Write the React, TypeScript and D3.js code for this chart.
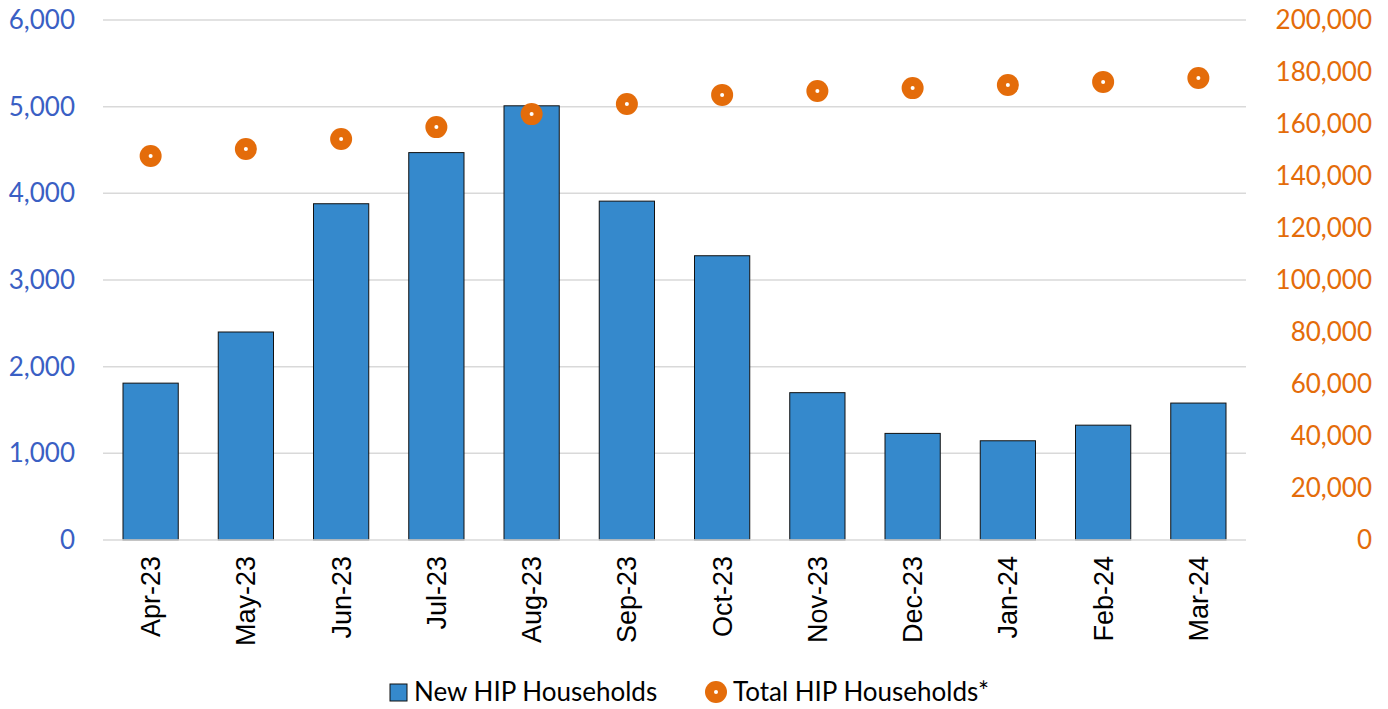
import React, { useEffect, useRef } from 'react';
import * as d3 from 'd3';

const months = ['Apr-23', 'May-23', 'Jun-23', 'Jul-23', 'Aug-23', 'Sep-23', 'Oct-23', 'Nov-23', 'Dec-23', 'Jan-24', 'Feb-24', 'Mar-24'];
const newHouseholds = [1810, 2400, 3880, 4470, 5010, 3910, 3280, 1700, 1230, 1145, 1325, 1580];
const totalHouseholds = [147700, 150400, 154200, 158800, 163800, 167700, 171200, 172700, 173800, 175000, 176200, 177700];
const leftTicks = [0, 1000, 2000, 3000, 4000, 5000, 6000];
const rightTicks = [0, 20000, 40000, 60000, 80000, 100000, 120000, 140000, 160000, 180000, 200000];

const BLUE_TEXT = '#3a5fc4';
const ORANGE = '#e46c0a';
const BAR = '#3589cc';

const App = () => {
  const svgRef = useRef(null);

  useEffect(() => {
    const svg = d3.select(svgRef.current);
    svg.selectAll('*').remove();
    const width = 1388;
    const height = 709;
    const margin = { top: 20, right: 142, bottom: 169, left: 103 };
    const innerWidth = width - margin.left - margin.right;
    const innerHeight = height - margin.top - margin.bottom;
    const labelFont = 'Lato, "Open Sans", sans-serif';

    const x = d3.scaleBand().domain(months).range([0, innerWidth]).paddingInner(0.42).paddingOuter(0.21);
    const y = d3.scaleLinear().domain([0, 6000]).range([innerHeight, 0]);
    const y2 = d3.scaleLinear().domain([0, 200000]).range([innerHeight, 0]);
    const fmt = d3.format(',');

    const g = svg.append('g').attr('transform', `translate(${margin.left},${margin.top})`);

    // grid lines
    g.append('g')
      .selectAll('line')
      .data(leftTicks.filter(d => d > 0))
      .enter()
      .append('line')
      .attr('x1', 0)
      .attr('x2', innerWidth)
      .attr('y1', d => y(d))
      .attr('y2', d => y(d))
      .attr('stroke', '#d9d9d9')
      .attr('stroke-width', 1.5);

    // bars
    g.append('g')
      .selectAll('rect')
      .data(newHouseholds)
      .enter()
      .append('rect')
      .attr('x', (d, i) => x(months[i]))
      .attr('y', d => y(d))
      .attr('width', x.bandwidth())
      .attr('height', d => innerHeight - y(d))
      .attr('fill', BAR)
      .attr('stroke', '#111')
      .attr('stroke-width', 1);

    // baseline
    g.append('line')
      .attr('x1', 0)
      .attr('x2', innerWidth)
      .attr('y1', innerHeight)
      .attr('y2', innerHeight)
      .attr('stroke', '#d9d9d9')
      .attr('stroke-width', 1.5);

    // total markers
    const dots = g.append('g')
      .selectAll('g')
      .data(totalHouseholds)
      .enter()
      .append('g')
      .attr('transform', (d, i) => `translate(${x(months[i]) + x.bandwidth() / 2},${y2(d)})`);
    dots.append('circle').attr('r', 11).attr('fill', ORANGE);
    dots.append('circle').attr('r', 2).attr('fill', '#fff');

    // left axis labels
    g.append('g')
      .selectAll('text')
      .data(leftTicks)
      .enter()
      .append('text')
      .attr('x', -28)
      .attr('y', d => y(d))
      .attr('dy', '0.35em')
      .attr('text-anchor', 'end')
      .attr('font-family', labelFont)
      .attr('font-size', 26)
      .attr('fill', BLUE_TEXT)
      .text(d => fmt(d));

    // right axis labels
    g.append('g')
      .selectAll('text')
      .data(rightTicks)
      .enter()
      .append('text')
      .attr('x', innerWidth + 126)
      .attr('y', d => y2(d))
      .attr('dy', '0.35em')
      .attr('text-anchor', 'end')
      .attr('font-family', labelFont)
      .attr('font-size', 26)
      .attr('fill', ORANGE)
      .text(d => fmt(d));

    // x labels
    g.append('g')
      .selectAll('text')
      .data(months)
      .enter()
      .append('text')
      .attr('transform', d => `translate(${x(d) + x.bandwidth() / 2},${innerHeight + 16}) rotate(-90)`)
      .attr('dy', '0.35em')
      .attr('text-anchor', 'end')
      .attr('font-family', '"Liberation Sans", Arial, sans-serif')
      .attr('font-size', 27)
      .attr('fill', '#000')
      .text(d => d);

    // legend
    const legend = svg.append('g').attr('transform', 'translate(0,692)');
    legend.append('rect')
      .attr('x', 390).attr('y', -8).attr('width', 17).attr('height', 17)
      .attr('fill', BAR).attr('stroke', '#111').attr('stroke-width', 1);
    legend.append('text')
      .attr('x', 414).attr('dy', '0.35em')
      .attr('font-family', labelFont).attr('font-size', 26).attr('fill', '#000')
      .text('New HIP Households');
    legend.append('circle').attr('cx', 716).attr('cy', 0).attr('r', 11).attr('fill', ORANGE);
    legend.append('circle').attr('cx', 716).attr('cy', 0).attr('r', 2).attr('fill', '#fff');
    legend.append('text')
      .attr('x', 733).attr('dy', '0.35em')
      .attr('font-family', labelFont).attr('font-size', 26).attr('fill', '#000')
      .text('Total HIP Households*');
  }, []);

  return (
    <svg ref={svgRef} width={1388} height={709} style={{ position: 'absolute', left: 0, top: 0 }}></svg>
  );
};

export default App;
